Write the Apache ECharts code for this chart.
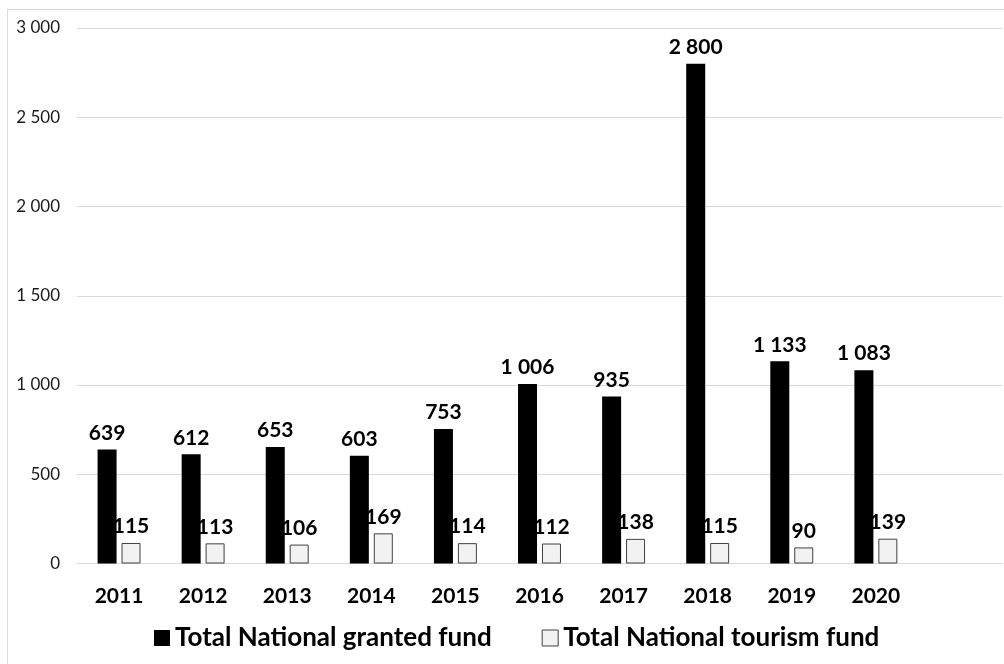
<!DOCTYPE html>
<html>
<head>
<meta charset="utf-8">
<script src="https://cdn.jsdelivr.net/npm/echarts@6/dist/echarts.min.js"></script>
<style>
  html, body { margin: 0; padding: 0; background: #ffffff; }
  #chart { width: 1004px; height: 664px; }
</style>
</head>
<body>
<div id="chart"></div>
<script>
// Years on the category axis; the trailing blank slot leaves room on the right
const years = ['2011', '2012', '2013', '2014', '2015', '2016', '2017', '2018', '2019', '2020', ''];
// Total National granted fund per year
const grantedFund = [639, 612, 653, 603, 753, 1006, 935, 2800, 1133, 1083, null];
// Total National tourism fund per year
const tourismFund = [115, 113, 106, 169, 114, 112, 138, 115, 90, 139, null];
// Value axis ticks
const yMin = 0, yMax = 3000, yStep = 500;

const fontFamily = 'Lato, "Open Sans", "Liberation Sans", sans-serif';
const spaced = v => String(Math.round(v)).replace(/\B(?=(\d{3})+(?!\d))/g, ' ');

const chart = echarts.init(document.getElementById('chart'), null, { renderer: 'canvas' });
chart.setOption({
  animation: false,
  backgroundColor: '#ffffff',
  graphic: [{
    type: 'rect',
    shape: { x: 7.5, y: 9.5, width: 1100, height: 800 },
    style: { fill: 'none', stroke: '#d9d9d9', lineWidth: 1 },
    silent: true
  }],
  grid: { left: 77, right: 2, top: 28, bottom: 100.5, containLabel: false },
  legend: {
    bottom: 8,
    left: 149,
    itemWidth: 16,
    itemHeight: 16,
    itemGap: 50,
    icon: 'rect',
    textStyle: { fontFamily, fontSize: 26, fontWeight: 'bold', color: '#000000' },
    data: [
      { name: 'Total National granted fund', itemStyle: { color: '#000000', borderWidth: 0 } },
      { name: 'Total National tourism fund', itemStyle: { color: '#f2f2f2', borderColor: '#404040', borderWidth: 1 } }
    ]
  },
  xAxis: {
    type: 'category',
    data: years,
    axisLine: { show: true, lineStyle: { color: '#d9d9d9', width: 1 } },
    axisTick: { show: false },
    axisLabel: { fontFamily, fontSize: 21, fontWeight: 'bold', color: '#000000', margin: 22 },
    splitLine: { show: false }
  },
  yAxis: {
    type: 'value',
    min: yMin,
    max: yMax,
    interval: yStep,
    axisLine: { show: false },
    axisTick: { show: false },
    axisLabel: { fontFamily, fontSize: 17, color: '#1a1a1a', margin: 17, formatter: spaced },
    splitLine: { lineStyle: { color: '#d9d9d9', width: 1 } }
  },
  series: [
    {
      name: 'Total National granted fund',
      type: 'bar',
      data: grantedFund,
      barWidth: 19,
      barGap: '26%',
      itemStyle: { color: '#000000' },
      label: {
        show: true, position: 'top', distance: 6,
        fontFamily, fontSize: 21, fontWeight: 'bold', color: '#000000',
        formatter: p => spaced(p.value)
      }
    },
    {
      name: 'Total National tourism fund',
      type: 'bar',
      data: tourismFund,
      barWidth: 19,
      itemStyle: { color: '#f2f2f2', borderColor: '#404040', borderWidth: 1 },
      label: {
        show: true, position: 'top', distance: 6,
        fontFamily, fontSize: 21, fontWeight: 'bold', color: '#000000',
        formatter: p => spaced(p.value)
      }
    }
  ]
});
</script>
</body>
</html>
